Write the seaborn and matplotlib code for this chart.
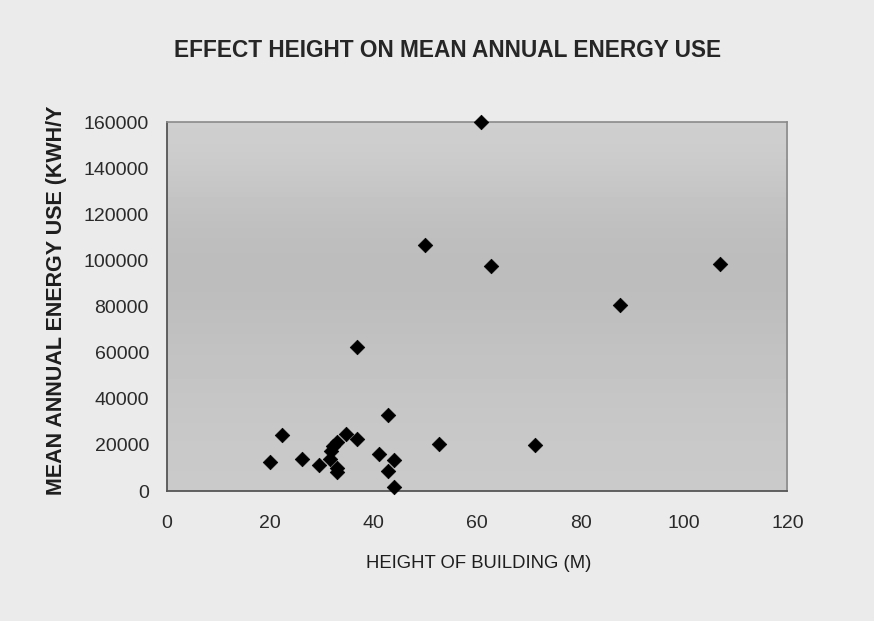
import numpy as np
import pandas as pd
import matplotlib
matplotlib.use("Agg")
import matplotlib.pyplot as plt
import seaborn as sns

title = "EFFECT HEIGHT ON MEAN ANNUAL ENERGY USE"
x_label = "HEIGHT OF BUILDING (M)"
y_label = "MEAN ANNUAL ENERGY USE (KWH/Y"

height_m = [20.0, 22.3, 26.2, 29.5, 31.6, 31.7, 32.2, 32.8, 32.8, 32.8, 34.6, 36.8, 36.8,
            41.0, 42.7, 42.7, 43.9, 43.9, 49.9, 52.7, 60.8, 62.6, 71.2, 87.7, 107.0]
energy_kwh = [12400, 24200, 14000, 11100, 14000, 17500, 19500, 21200, 9800, 8400, 24700, 22700, 62400,
              16000, 33000, 8800, 13400, 1900, 106700, 20400, 160000, 97700, 20000, 80700, 98300]

x_ticks = [0, 20, 40, 60, 80, 100, 120]
y_ticks = [0, 20000, 40000, 60000, 80000, 100000, 120000, 140000, 160000]

df = pd.DataFrame({"height": height_m, "energy": energy_kwh})

sns.set_style("white")
plt.rcParams["font.family"] = ["Liberation Sans", "DejaVu Sans"]

fig = plt.figure(figsize=(8.74, 6.21), dpi=100, facecolor="#ebebeb")
ax = fig.add_axes([0.191, 0.2093, 0.710, 0.5942])
ax.set_facecolor("#c6c6c6")

# subtle vertical shading of the plot area (scan look)
grad = np.array([0.79, 0.785, 0.775, 0.765, 0.75, 0.74, 0.74, 0.755, 0.785, 0.81])[:, None]
ax.imshow(np.repeat(grad, 2, axis=1), extent=[0, 1, 1, 0], transform=ax.transAxes,
          cmap="gray", vmin=0, vmax=1, aspect="auto", interpolation="bicubic", zorder=0)

sns.scatterplot(data=df, x="height", y="energy", marker="D", s=55, color="black",
                edgecolor="black", linewidth=0.5, ax=ax, zorder=5, clip_on=False)

ax.set_xlim(0, 120)
ax.set_ylim(0, 160000)
ax.set_xticks(x_ticks)
ax.set_yticks(y_ticks)
ax.set_xticklabels([str(v) for v in x_ticks])
ax.set_yticklabels([str(v) for v in y_ticks])
ax.tick_params(axis="both", labelsize=14, colors="#333333", length=5, width=1)
ax.tick_params(axis="x", direction="inout", pad=15)
ax.tick_params(axis="y", direction="out", pad=8)
ax.tick_params(axis="both", labelcolor="#2a2a2a")

for side in ["left", "bottom"]:
    ax.spines[side].set_color("#555555")
    ax.spines[side].set_linewidth(1.3)
for side in ["top", "right"]:
    ax.spines[side].set_color("#8a8a8a")
    ax.spines[side].set_linewidth(1.2)

ax.set_xlabel("")
ax.set_ylabel("")
fig.text(0.548, 0.093, x_label, ha="center", va="center", fontsize=13.3, color="#1e1e1e")
fig.text(0.065, 0.517, y_label, ha="center", va="center", rotation=90, fontsize=15.5,
         fontweight="bold", color="#1e1e1e")
fig.text(0.512, 0.918, title, ha="center", va="center", fontsize=16.3, fontweight="bold",
         color="#262626")

fig.savefig("out.png", dpi=100, facecolor=fig.get_facecolor())
